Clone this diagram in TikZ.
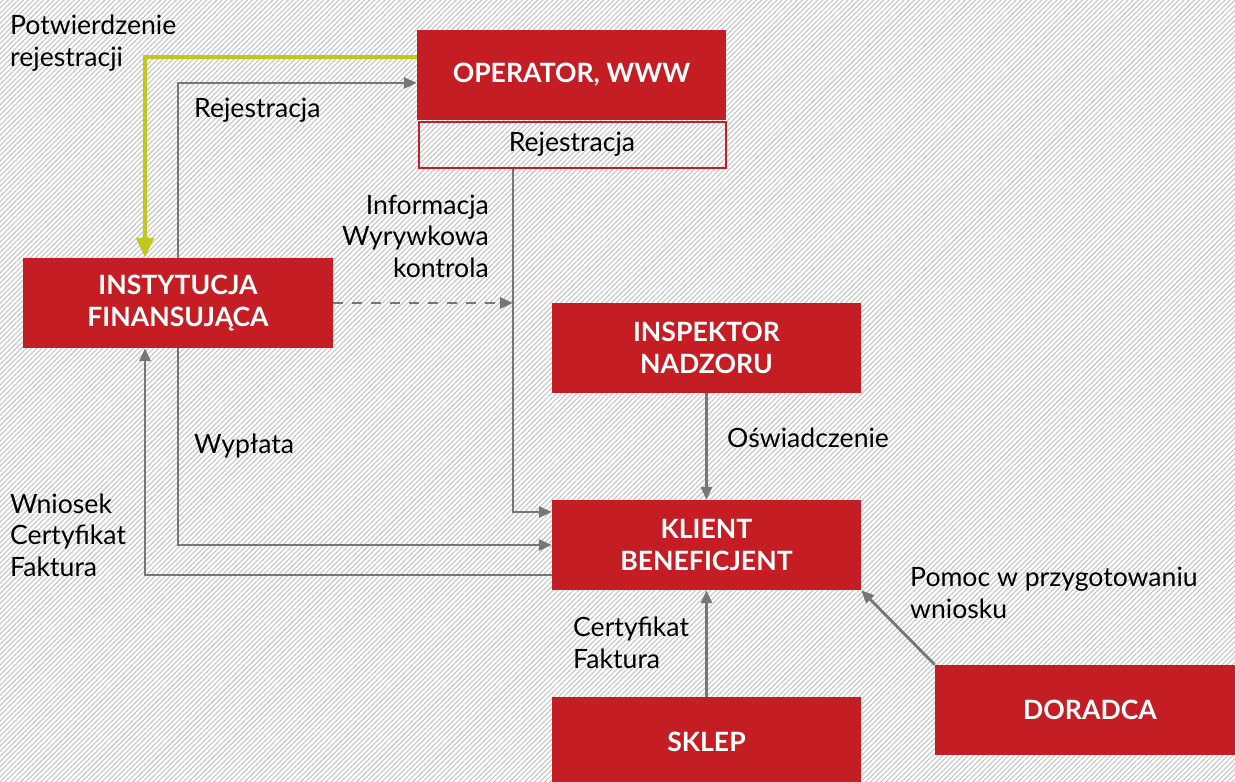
\documentclass[tikz,border=0pt]{standalone}
\usepackage{fontspec}
\setmainfont{Lato}
\usetikzlibrary{arrows.meta,patterns.meta}
\definecolor{boxred}{RGB}{196,30,36}
\definecolor{lime}{RGB}{190,200,30}
\definecolor{linegray}{RGB}{118,118,122}
\definecolor{hatch}{RGB}{190,190,190}
\tikzset{
  redbox/.style={fill=boxred, text=white, font=\fontsize{26.6}{32}\selectfont\bfseries, align=center, inner sep=0pt, minimum width=309pt, minimum height=90pt},
  subbox/.style={draw=boxred, line width=2pt, font=\fontsize{26.6}{32}\selectfont, align=center, inner sep=0pt, minimum width=307pt, minimum height=46pt},
  conn/.style={draw=linegray, line width=2.8pt, -{Triangle[length=13pt,width=11pt]}},
  dconn/.style={conn, dash pattern=on 10pt off 9pt},
  gconn/.style={draw=lime, line width=4.5pt, -{Triangle[length=20pt,width=17pt]}},
  lbl/.style={font=\fontsize{26.6}{31.5}\selectfont, inner sep=0pt, text=black}
}
\begin{document}
\begin{tikzpicture}[x=1pt,y=-1pt]
\useasboundingbox (0,0) rectangle (1235,782);
\fill[white] (0,0) rectangle (1235,782);
\fill[pattern={Lines[angle=45,distance=3.6pt,line width=0.9pt]}, pattern color=hatch] (0,0) rectangle (1235,782);

\begin{scope}
\clip (0,0) rectangle (1235,782);
\node[redbox] (oper) at (571.5,75) {OPERATOR, WWW};
\node[subbox] (operreg) at (572,144.5) {Rejestracja};
\node[redbox, minimum width=310pt] (inst) at (178,303) {INSTYTUCJA\\FINANSUJĄCA};
\node[redbox] (insp) at (706.5,348) {INSPEKTOR\\NADZORU};
\node[redbox] (klient) at (706.5,545) {KLIENT\\BENEFICJENT};
\node[redbox] (sklep) at (706.5,742) {SKLEP};
\node[redbox, minimum width=310pt] (doradca) at (1090,710) {DORADCA};
\end{scope}

\coordinate (g1) at (145,57);
\coordinate (r1) at (178,83);
\coordinate (c1) at (513,512);
\coordinate (w1) at (178,545);
\coordinate (w2) at (145,575);

\draw[gconn] (oper.west |- g1) -- (g1) -- (g1 |- inst.north);
\draw[conn] (inst.north) -- (r1) -- (oper.west |- r1);
\draw[conn] (operreg.south -| c1) -- (c1) -- (klient.west |- c1);
\draw[dconn] (inst.east) -- (c1 |- inst.east);
\draw[conn] (insp.south) -- (klient.north);
\draw[conn] (inst.south) -- (w1) -- (klient.west);
\draw[conn] (klient.west |- w2) -- (w2) -- (w2 |- inst.south);
\draw[conn] (sklep.north) -- (klient.south);
\draw[conn] (doradca.north west) -- (klient.south east);

\node[lbl, align=left, anchor=west] (l1) at (10,43) {Potwierdzenie\\rejestracji};
\node[lbl, anchor=west] (l2) at (194,110) {Rejestracja};
\node[lbl, align=right, anchor=east] (l3) at (489,236) {Informacja\\Wyrywkowa\\kontrola};
\node[lbl, anchor=west] (l4) at (727,438) {Oświadczenie};
\node[lbl, anchor=west] (l5) at (194,446) {Wypłata};
\node[lbl, align=left, anchor=west] (l6) at (10,535) {Wniosek\\Certyfikat\\Faktura};
\node[lbl, align=left, anchor=west] (l7) at (573,643) {Certyfikat\\Faktura};
\node[lbl, align=left, anchor=west] (l8) at (910,593) {Pomoc w przygotowaniu\\wniosku};
\end{tikzpicture}
\end{document}
